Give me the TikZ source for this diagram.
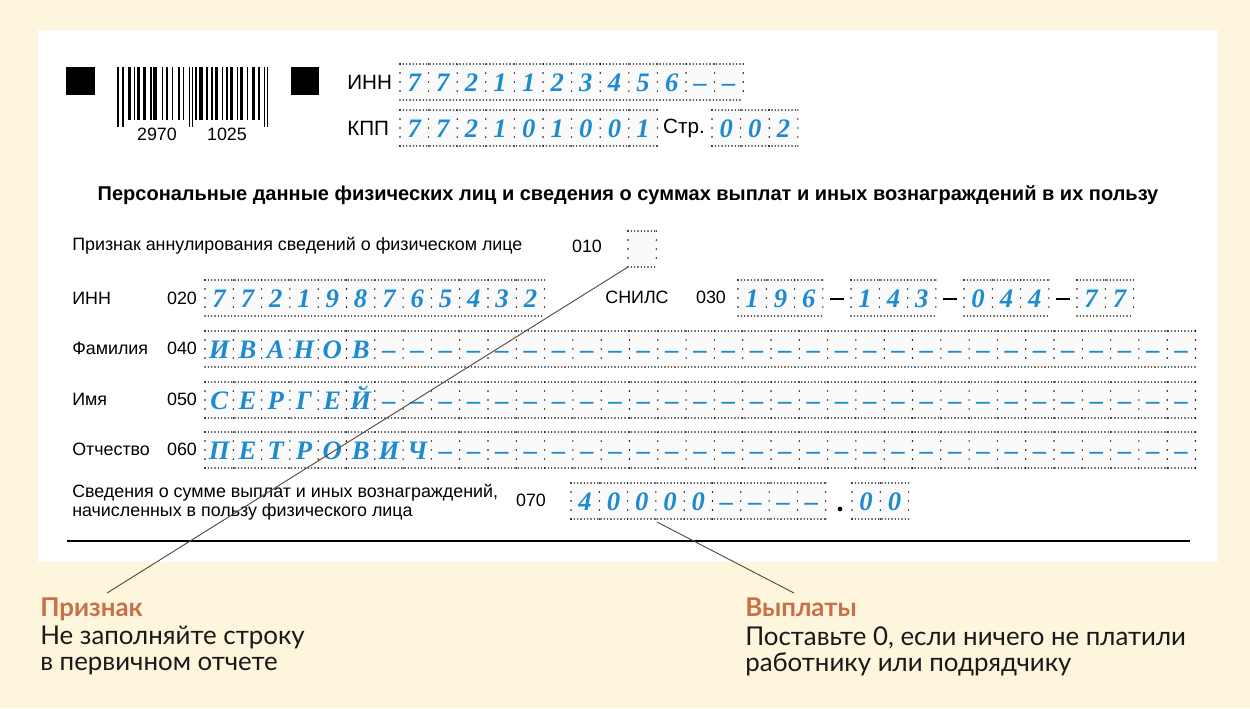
\documentclass[tikz,border=0pt]{standalone}
\usepackage{fontspec}
\setmainfont{Liberation Sans}
\newfontfamily\digitfont{Liberation Serif}
\newfontfamily\notefont{Lato}
\usetikzlibrary{positioning}

\definecolor{pagebg}{HTML}{FDF5DC}
\definecolor{digitblue}{HTML}{1E8BCF}
\definecolor{noteorange}{HTML}{C8704A}
\definecolor{leadercol}{HTML}{5A4A3A}

\tikzset{
  hdots/.style={line width=1.2pt, line cap=round, dash pattern=on 0pt off 2.5pt},
  vdots/.style={line width=1.2pt, line cap=round, dash pattern=on 0pt off 6.75pt},
  digit/.style={font=\digitfont\bfseries\itshape\fontsize{20}{20}\selectfont, text=digitblue, inner sep=0pt, anchor=base},
  formlabel/.style={font=\fontsize{13.4}{14.3}\selectfont, inner sep=0pt},
  headlabel/.style={font=\fontsize{15.5}{16}\selectfont, inner sep=0pt},
  titletext/.style={font=\bfseries\fontsize{15}{16}\selectfont, inner sep=0pt},
  sdash/.style={fill=black, inner sep=0pt, minimum width=10pt, minimum height=2.2pt},
  decdot/.style={circle, fill=black, inner sep=0pt, minimum size=3.5pt},
  notehead/.style={font=\notefont\bfseries\fontsize{19.4}{19.5}\selectfont, text=noteorange, inner sep=0pt},
  notebody/.style={font=\notefont\fontsize{19.4}{19.5}\selectfont, text=black!90, inner sep=0pt, align=left},
  leader/.style={draw=leadercol, line width=0.7pt}
}

\newcommand{\fieldrow}[5]{%
  \fill[black!2] (#2,#3-18) rectangle ({#2+#4*\cw},#3+18);
  \draw[hdots] (#2,#3-18) -- ({#2+#4*\cw},#3-18);
  \draw[hdots] (#2,#3+18) -- ({#2+#4*\cw},#3+18);
  \foreach \k in {0,...,#4} \draw[vdots] ({#2+\k*\cw},#3-18) -- ({#2+\k*\cw},#3+18);
  \gdef\nfill{0}%
  \foreach \ch [count=\i] in {#5} {
    \node[digit] (#1-\i) at ({#2+(\i-0.5)*\cw},#3+9.5) {\ch};
    \xdef\nfill{\i}}%
  \ifnum\nfill<#4\relax
    \pgfmathtruncatemacro\jstart{\nfill+1}%
    \foreach \j in {\jstart,...,#4}
      \node[digit] (#1-\j) at ({#2+(\j-0.5)*\cw},#3+9.5) {–};
  \fi
  \coordinate (#1-sw) at (#2,#3+18);
}

\begin{document}
\begin{tikzpicture}[x=0.75pt, y=-0.75pt]
  \fill[pagebg] (0,0) rectangle (1250,708);
  \useasboundingbox (0,0) rectangle (1250,708);
  \fill[white] (38,30) rectangle (1218,562);

  \fill (66,67) rectangle (95,95);
  \fill (291,67) rectangle (319,95);
  \foreach \a/\b in {127.7/130.7, 133.7/134.7, 136.7/140, 143.3/146, 150/152, 153.3/156.7,
      161.7/162.7, 166/168, 171.7/173.3, 177.7/180, 183.3/184.3, 195.3/196.7, 199/202.7,
      206/208.3, 210.7/213.3, 215/218.3, 221.7/223.3, 226/228.3, 230/232.7, 236.7/238.3,
      240/243.3, 246.7/248, 252.3/255, 258.3/260}
    \fill (\a,67) rectangle (\b,120);
  \foreach \a/\b in {117.3/119.3, 122.3/124, 188.7/190, 191.7/193.3, 264/265.3, 266.7/268}
    \fill (\a,67) rectangle (\b,127);
  \node[formlabel] (codeA) at (157,134) {2970};
  \node[formlabel] (codeB) at (227,134) {1025};

  \node[headlabel, anchor=west] (innHead) at (347,82) {ИНН};
  \node[headlabel, anchor=west] (kppHead) at (347,128) {КПП};
  \def\cw{28.6}
  \fieldrow{innTop}{400}{82}{12}{7,7,2,1,1,2,3,4,5,6}
  \fieldrow{kpp}{400}{128}{9}{7,7,2,1,0,1,0,0,1}
  \node[headlabel] (pageHead) at (684,128) {Стр.};
  \fieldrow{page}{712}{128}{3}{0,0,2}

  \node[titletext] (title) at (628,195) {Персональные данные физических лиц и сведения о суммах выплат и иных вознаграждений в их пользу};

  \def\cw{28.3}
  \node[formlabel, anchor=west] (prLabel) at (72,246) {Признак аннулирования сведений о физическом лице};
  \node[formlabel] (prCode) at (587,246) {010};
  \fieldrow{pr}{628}{249}{1}{\phantom{0}}

  \node[formlabel, anchor=west] (innLabel) at (72,298) {ИНН};
  \node[formlabel] (innCode) at (182,298) {020};
  \fieldrow{inn}{205}{298}{12}{7,7,2,1,9,8,7,6,5,4,3,2}

  \node[formlabel] (snLabel) at (637,297) {СНИЛС};
  \node[formlabel] (snCode) at (711,297) {030};
  \fieldrow{snA}{738}{298}{3}{1,9,6}
  \node[sdash] (snDashA) at (837,299) {};
  \fieldrow{snB}{851}{298}{3}{1,4,3}
  \node[sdash] (snDashB) at (950,299) {};
  \fieldrow{snC}{964}{298}{3}{0,4,4}
  \node[sdash] (snDashC) at (1063,299) {};
  \fieldrow{snD}{1077}{298}{2}{7,7}

  \node[formlabel, anchor=west] (famLabel) at (72,348) {Фамилия};
  \node[formlabel] (famCode) at (182,348) {040};
  \fieldrow{fam}{205}{349}{35}{И,В,А,Н,О,В}

  \node[formlabel, anchor=west] (nameLabel) at (72,399) {Имя};
  \node[formlabel] (nameCode) at (182,399) {050};
  \fieldrow{name}{205}{400}{35}{С,Е,Р,Г,Е,Й}

  \node[formlabel, anchor=west] (patLabel) at (72,449) {Отчество};
  \node[formlabel] (patCode) at (182,449) {060};
  \fieldrow{pat}{205}{450}{35}{П,Е,Т,Р,О,В,И,Ч}

  \node[formlabel, anchor=west, align=left] (sumLabel) at (72,502) {Сведения о сумме выплат и иных вознаграждений,\\начисленных в пользу физического лица};
  \node[formlabel] (sumCode) at (531,500) {070};
  \fieldrow{sum}{571}{501}{9}{4,0,0,0,0}
  \node[decdot] (sumDot) at (840,509) {};
  \fieldrow{cents}{852}{501}{2}{0,0}

  \draw[line width=1.6pt] (67,541) -- (1190,541);

  \node[notehead, anchor=base west] (prHead) at (40,616) {Признак};
  \node[notebody, anchor=north west] (prBody) at (40,626) {Не заполняйте строку\\в первичном отчете};
  \node[notehead, anchor=base west] (payHead) at (745,616) {Выплаты};
  \node[notebody, anchor=north west] (payBody) at (745,626) {Поставьте 0, если ничего не платили\\работнику или подрядчику};

  \coordinate (prEnd) at (107,593);
  \coordinate (payStart) at (657,522);
  \coordinate (payEnd) at (794,593);
  \draw[leader] (pr-sw) -- (prEnd);
  \draw[leader] (payStart) -- (payEnd);
\end{tikzpicture}
\end{document}
